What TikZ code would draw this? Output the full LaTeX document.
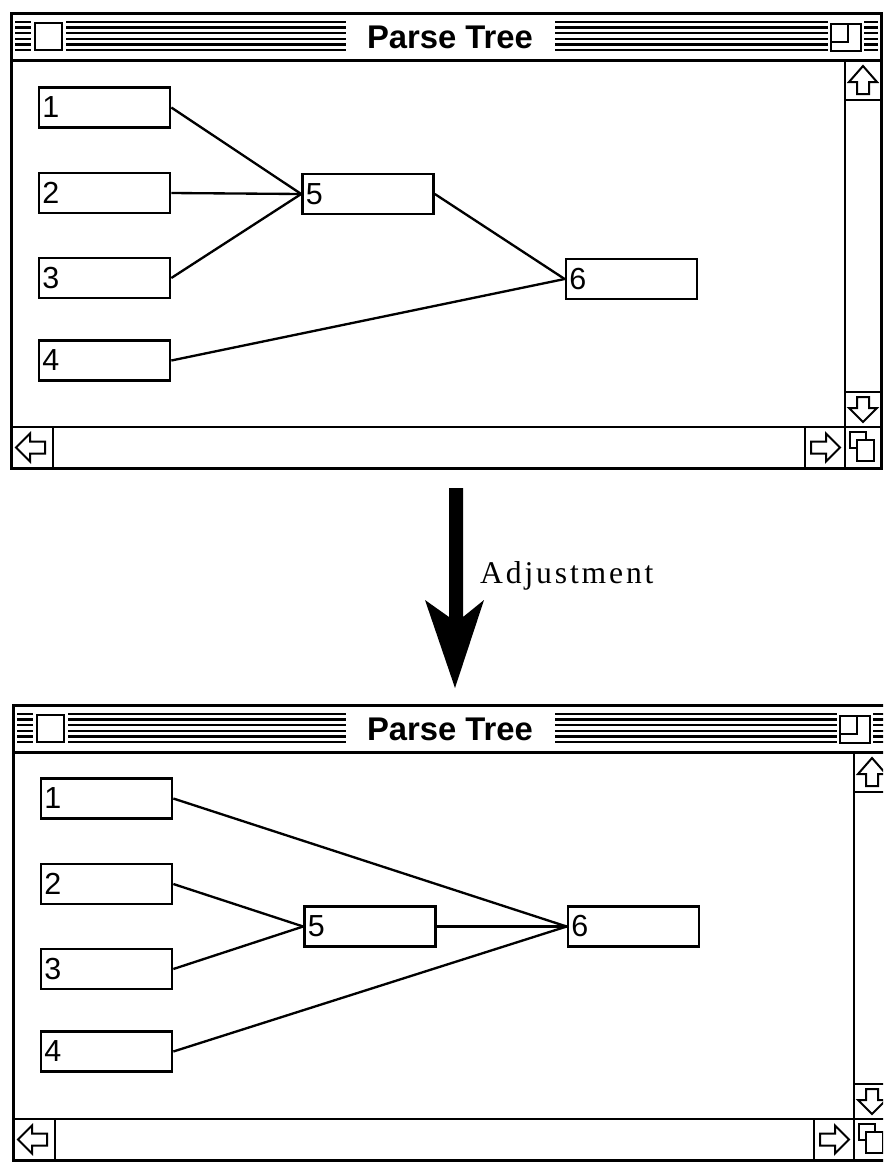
\documentclass[tikz,border=0pt]{standalone}
\usepackage{fontspec}
\setmainfont{Liberation Serif}
\setsansfont{Liberation Sans}
\usepackage{tikz}
\usetikzlibrary{arrows.meta,positioning,calc}

% one Mac window: left, top, right, bottom, name
\newcommand{\macwindow}[5]{%
  \draw[frameline] (#1,#2) rectangle (#3,#4);
  \draw[frameline] (#1,{#2+47}) -- (#3,{#2+47});
  % stripes of the title bar
  \foreach \k in {0,...,5}{
    \draw[stripe] ({#1+4},{#2+9+\k*5.6}) -- ({#1+20},{#2+9+\k*5.6});
    \draw[stripe] ({#1+55},{#2+9+\k*5.6}) -- (346,{#2+9+\k*5.6});
    \draw[stripe] (555,{#2+9+\k*5.6}) -- ({#3-53},{#2+9+\k*5.6});
    \draw[stripe] ({#3-17},{#2+9+\k*5.6}) -- ({#3-3},{#2+9+\k*5.6});
  }
  \filldraw[boxline, fill=white] ({#1+24},{#2+10}) rectangle ({#1+51},{#2+37});
  \filldraw[boxline, fill=white] ({#3-50},{#2+11}) rectangle ({#3-20},{#2+38});
  \draw[boxline] ({#3-50},{#2+29}) -- ({#3-33},{#2+29}) -- ({#3-33},{#2+11});
  \node[wintitle] (#5title) at (450,{#2+24}) {Parse Tree};
  % scroll bars
  \draw[boxline] ({#3-36},{#2+47}) -- ({#3-36},#4);
  \draw[boxline] (#1,{#4-41}) -- (#3,{#4-41});
  \draw[boxline] ({#3-36},{#2+87}) -- (#3,{#2+87});
  \draw[boxline] ({#3-36},{#4-76}) -- (#3,{#4-76});
  \draw[boxline] ({#1+42},{#4-41}) -- ({#1+42},#4);
  \draw[boxline] ({#3-76},{#4-41}) -- ({#3-76},#4);
  % arrow icons
  \draw[boxline] ({#3-18},{#2+53}) -- ({#3-32},{#2+69}) -- ({#3-24},{#2+69})
    -- ({#3-24},{#2+81}) -- ({#3-12},{#2+81}) -- ({#3-12},{#2+69})
    -- ({#3-4},{#2+69}) -- cycle;
  \draw[boxline] ({#3-18},{#4-46}) -- ({#3-32},{#4-60}) -- ({#3-24},{#4-60})
    -- ({#3-24},{#4-71}) -- ({#3-12},{#4-71}) -- ({#3-12},{#4-60})
    -- ({#3-4},{#4-60}) -- cycle;
  \draw[boxline] ({#1+5},{#4-20.5}) -- ({#1+19},{#4-34.5}) -- ({#1+19},{#4-26.5})
    -- ({#1+34},{#4-26.5}) -- ({#1+34},{#4-14.5}) -- ({#1+19},{#4-14.5})
    -- ({#1+19},{#4-6.5}) -- cycle;
  \draw[boxline] ({#3-41},{#4-20.5}) -- ({#3-55},{#4-34.5}) -- ({#3-55},{#4-26.5})
    -- ({#3-70},{#4-26.5}) -- ({#3-70},{#4-14.5}) -- ({#3-55},{#4-14.5})
    -- ({#3-55},{#4-6.5}) -- cycle;
  % grow box
  \draw[boxline] ({#3-31},{#4-36}) rectangle ({#3-15},{#4-20});
  \filldraw[boxline, fill=white] ({#3-24},{#4-28}) rectangle ({#3-7},{#4-7});
}

\begin{document}
\begin{tikzpicture}[x=0.03cm, y=-0.03cm,
    frameline/.style={line width=0.09cm},
    boxline/.style={line width=0.06cm},
    stripe/.style={line width=0.07cm},
    wintitle/.style={font=\sffamily\bfseries\fontsize{28}{28}\selectfont, inner sep=0pt},
    treenode/.style={draw, line width=0.08cm, text width=3.73cm, align=left,
      minimum height=1.2cm, inner xsep=0.1cm, inner ysep=0pt,
      font=\sffamily\fontsize{26}{26}\selectfont},
    edge/.style={line width=0.07cm}]
  \clip (0,0) rectangle (883,1165);

  % before
  \macwindow{11}{13}{881}{468}{top}
  \node[treenode] (a1) at (104.5,107.5) {1};
  \node[treenode] (a2) at (104.5,193) {2};
  \node[treenode] (a3) at (104.5,278) {3};
  \node[treenode] (a4) at (104.5,360.5) {4};
  \node[treenode] (a5) at (368,194) {5};
  \node[treenode] (a6) at (631.5,279) {6};
  \draw[edge] (a1.east) -- (a5.west);
  \draw[edge] (a2.east) -- (a5.west);
  \draw[edge] (a3.east) -- (a5.west);
  \draw[edge] (a5.east) -- (a6.west);
  \draw[edge] (a4.east) -- (a6.west);

  % big arrow
  \fill (449,488) -- (463,488) -- (463,617) -- (484,600) -- (455,688)
    -- (425,600) -- (449,617) -- cycle;
  \node[anchor=base west, inner sep=0pt,
    font=\addfontfeatures{LetterSpace=9}\fontsize{27}{27}\selectfont]
    (adjust) at (480,583) {Adjustment};

  % after
  \macwindow{13}{705}{890}{1160}{bot}
  \node[treenode] (b1) at (106.5,798.5) {1};
  \node[treenode] (b2) at (106.5,884) {2};
  \node[treenode] (b3) at (106.5,969) {3};
  \node[treenode] (b4) at (106.5,1051.5) {4};
  \node[treenode] (b5) at (370,926.5) {5};
  \node[treenode] (b6) at (633.5,926.5) {6};
  \draw[edge] (b1.east) -- (b6.west);
  \draw[edge] (b2.east) -- (b5.west);
  \draw[edge] (b3.east) -- (b5.west);
  \draw[edge] (b5.east) -- (b6.west);
  \draw[edge] (b4.east) -- (b6.west);
\end{tikzpicture}
\end{document}
